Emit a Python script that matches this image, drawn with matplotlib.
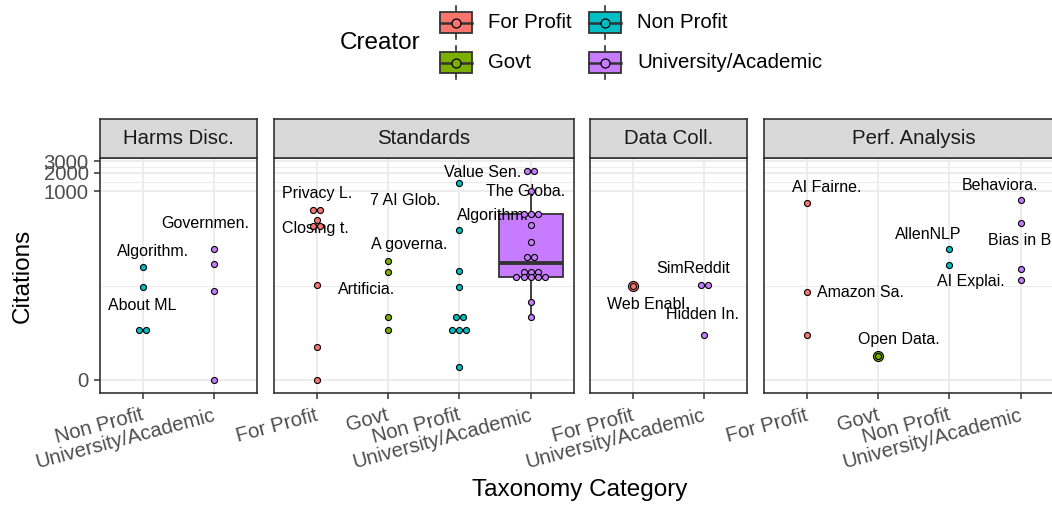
import numpy as np
import matplotlib
matplotlib.use("Agg")
import matplotlib.pyplot as plt
import matplotlib.transforms as mtransforms
from matplotlib.patches import Rectangle

plt.rcParams['font.family'] = ['Liberation Sans', 'DejaVu Sans']

# data
creators = ["For Profit", "Govt", "Non Profit", "University/Academic"]
facets = ["Harms Disc.", "Standards", "Data Coll.", "Perf. Analysis"]

harms_np = [63, 30, 6, 6]
harms_univ = [123, 69, 26, 0]

std_fp = [514, 514, 351, 278, 278, 32, 3, 0]
std_govt = [78, 52, 10, 6]
std_np = [1380, 245, 55, 30, 10, 10, 6, 6, 6, 1]
std_univ = [2090, 2090, 1010, 433, 433, 433, 294, 157, 91.5, 91.5,
            53, 53, 53, 43.6, 43.6, 43.6, 43.6, 43.6, 17, 9.8]

dc_fp = [31]
dc_univ = [32, 32, 5]

pa_fp = [650, 25, 5]
pa_govt = [2]
pa_np = [121, 68]
pa_univ = [728, 314, 59, 39.5]

citations = {
    "Harms Disc.": {"Non Profit": harms_np, "University/Academic": harms_univ},
    "Standards": {"For Profit": std_fp, "Govt": std_govt, "Non Profit": std_np,
                  "University/Academic": std_univ},
    "Data Coll.": {"For Profit": dc_fp, "University/Academic": dc_univ},
    "Perf. Analysis": {"For Profit": pa_fp, "Govt": pa_govt, "Non Profit": pa_np,
                       "University/Academic": pa_univ},
}
boxed = [("Standards", "University/Academic")]

# (facet, creator, value of labelled point, text)
point_labels = [
    ("Harms Disc.", "Non Profit", 63, "Algorithm."),
    ("Harms Disc.", "Non Profit", 30, "About ML"),
    ("Harms Disc.", "University/Academic", 123, "Governmen."),
    ("Standards", "For Profit", 514, "Privacy L."),
    ("Standards", "For Profit", 278, "Closing t."),
    ("Standards", "Non Profit", 1380, "7 AI Glob."),
    ("Standards", "Govt", 78, "A governa."),
    ("Standards", "Govt", 52, "Artificia."),
    ("Standards", "University/Academic", 2090, "Value Sen."),
    ("Standards", "University/Academic", 1010, "The Globa."),
    ("Standards", "University/Academic", 433, "Algorithm."),
    ("Data Coll.", "University/Academic", 32, "SimReddit"),
    ("Data Coll.", "For Profit", 31, "Web Enabl."),
    ("Data Coll.", "University/Academic", 5, "Hidden In."),
    ("Perf. Analysis", "For Profit", 650, "AI Fairne."),
    ("Perf. Analysis", "For Profit", 25, "Amazon Sa."),
    ("Perf. Analysis", "Govt", 2, "Open Data."),
    ("Perf. Analysis", "Non Profit", 121, "AllenNLP"),
    ("Perf. Analysis", "Non Profit", 68, "AI Explai."),
    ("Perf. Analysis", "University/Academic", 728, "Behaviora."),
    ("Perf. Analysis", "University/Academic", 314, "Bias in B."),
]
# label nudges in pixels (right, down), mimicking the repel layout
label_nudge = [(10, -15), (-1, 18), (-9, -25), (1, -16), (-1, 2), (-54, 18),
               (21, -16), (-21, 17), (-48, 1), (-5, 0), (-38, 1), (-11, -17),
               (15, 18), (-2, -20), (20, -16), (54, 1), (21, -16), (-21, -15),
               (21, 17), (-21, -15), (1, 17)]

y_breaks = [0, 1000, 2000, 3000]

colors = {"For Profit": "#F8766D", "Govt": "#7CAE00",
          "Non Profit": "#00BFC4", "University/Academic": "#C77CFF"}


def pl(v):
    # pseudo log10 transform
    return np.arcsinh(np.asarray(v, dtype=float) / 2) / np.log(10)


W, H = 1052, 508
fig = plt.figure(figsize=(W / 100, H / 100), dpi=100)


def rect(x0, y0, x1, y1):
    return [x0 / W, 1 - y1 / H, (x1 - x0) / W, (y1 - y0) / H]


grey20 = "#333333"
grey30 = "#4D4D4D"
grid_c = "#EBEBEB"
left0, unit, gap = 100, 71.4, 16.6
strip_top, panel_top, panel_bot = 119.3, 157.7, 393.3
small = 14.7

major_t = pl(y_breaks)
minor_t = (major_t[:-1] + major_t[1:]) / 2
ylim = (-0.215, 3.537)
step = 0.1

x0 = left0
for facet in facets:
    groups = citations[facet]
    cats = [c for c in creators if c in groups]
    n = len(cats)
    x1 = x0 + (n + 0.2) * unit
    ax = fig.add_axes(rect(x0, panel_top, x1, panel_bot))
    ax.set_xlim(0.4, n + 0.6)
    ax.set_ylim(*ylim)
    ax.set_yticks(major_t)
    ax.set_yticks(minor_t, minor=True)
    ax.set_xticks(range(1, n + 1))
    ax.grid(which='major', color=grid_c, lw=1.3)
    ax.grid(which='minor', axis='y', color=grid_c, lw=0.7)
    ax.set_axisbelow(True)
    ax.tick_params(which='minor', length=0)
    ax.tick_params(which='major', length=4.3, width=1.1, color=grey20,
                   labelbottom=False)
    if facet == facets[0]:
        ax.set_yticklabels([str(b) for b in y_breaks], fontsize=small,
                           color=grey30)
        ax.tick_params(axis='y', pad=3.8)
    else:
        ax.tick_params(axis='y', left=False, labelleft=False)
    for sp in ax.spines.values():
        sp.set_color(grey20)
        sp.set_linewidth(1.2)

    # tick labels, rotated 15 degrees, right end of baseline under the tick
    for i, c in enumerate(cats):
        tr = mtransforms.blended_transform_factory(ax.transData, ax.transAxes) + \
            mtransforms.ScaledTranslation(2 / 100, -26.7 / 100, fig.dpi_scale_trans)
        ax.text(i + 1, 0, c, transform=tr, rotation=15, rotation_mode='anchor',
                ha='right', va='baseline', fontsize=small, color=grey30)

    pos = {}
    for i, c in enumerate(cats):
        vals = np.array(groups[c], dtype=float)
        xc = i + 1
        pos[c] = xc
        if (facet, c) in boxed:
            q1, med, q3 = np.percentile(vals, [25, 50, 75])
            iqr = q3 - q1
            lo = vals[vals >= q1 - 1.5 * iqr].min()
            hi = vals[vals <= q3 + 1.5 * iqr].max()
            ax.add_patch(Rectangle((xc - 0.45, pl(q1)), 0.9, pl(q3) - pl(q1),
                                   facecolor=colors[c], edgecolor=grey20,
                                   lw=1.3, zorder=2))
            ax.plot([xc - 0.45, xc + 0.45], [pl(med)] * 2, color=grey20,
                    lw=2.8, zorder=2.1, solid_capstyle='butt')
            ax.plot([xc, xc], [pl(q3), pl(hi)], color=grey20, lw=1.3, zorder=2)
            ax.plot([xc, xc], [pl(lo), pl(q1)], color=grey20, lw=1.3, zorder=2)
        # simple swarm: spread equal values side by side
        xs, ys = [], []
        for v in sorted(set(vals), reverse=True):
            k = int(np.sum(vals == v))
            for j in range(k):
                xs.append(xc + (j - (k - 1) / 2) * step)
                ys.append(pl(v))
        if len(vals) == 1:
            ax.scatter(xs, ys, s=52, c=colors[c], edgecolors='black',
                       linewidths=0.8, zorder=3.9)
        ax.scatter(xs, ys, s=19, c=colors[c], edgecolors='black',
                   linewidths=0.8, zorder=4)

    for (f, c, v, txt), (dx, dy) in zip(point_labels, label_nudge):
        if f != facet:
            continue
        ax.annotate(txt, xy=(pos[c], pl(v)), xytext=(dx * 0.72, -dy * 0.72),
                    textcoords='offset points', ha='center', va='center',
                    fontsize=11.5, color='black', zorder=3, annotation_clip=False)

    sax = fig.add_axes(rect(x0, strip_top, x1, panel_top))
    sax.set_facecolor("#D9D9D9")
    sax.set_xticks([])
    sax.set_yticks([])
    for sp in sax.spines.values():
        sp.set_color(grey20)
        sp.set_linewidth(1.2)
    sax.text(0.5, 0.5, facet, transform=sax.transAxes, ha='center',
             va='center', fontsize=small, color="#1A1A1A")

    x0 = x1 + gap

fig.text(579.5 / W, 1 - 490 / H, "Taxonomy Category", ha='center', va='center',
         fontsize=17.5)
fig.text(23 / W, 1 - 276.3 / H, "Citations", ha='center', va='center',
         rotation=90, fontsize=17.5)

# legend
leg = fig.add_axes([0, 0, 1, 1])
leg.set_xlim(0, W)
leg.set_ylim(H, 0)
leg.axis('off')
leg.text(339.3, 43, "Creator", ha='left', va='center', fontsize=17.5)
key_x = [456, 605.2]
lab_x = [488.3, 637.3]
key_y = [22.5, 62.5]
for i, c in enumerate(creators):
    col, row = i // 2, i % 2
    kx, ky = key_x[col], key_y[row]
    leg.plot([kx, kx], [ky - 16.5, ky + 16.5], color=grey20, lw=1.2, zorder=1)
    leg.add_patch(Rectangle((kx - 15.8, ky - 10.8), 31.6, 21.6,
                            facecolor=colors[c], edgecolor=grey20, lw=1.3,
                            zorder=2))
    leg.plot([kx - 15.8, kx + 15.8], [ky, ky], color=grey20, lw=1.8, zorder=3)
    leg.scatter([kx], [ky], s=42, c=colors[c], edgecolors='black',
                linewidths=0.9, zorder=4)
    leg.text(lab_x[col], ky, c, ha='left', va='center', fontsize=small)

fig.savefig("out.png", dpi=100)
